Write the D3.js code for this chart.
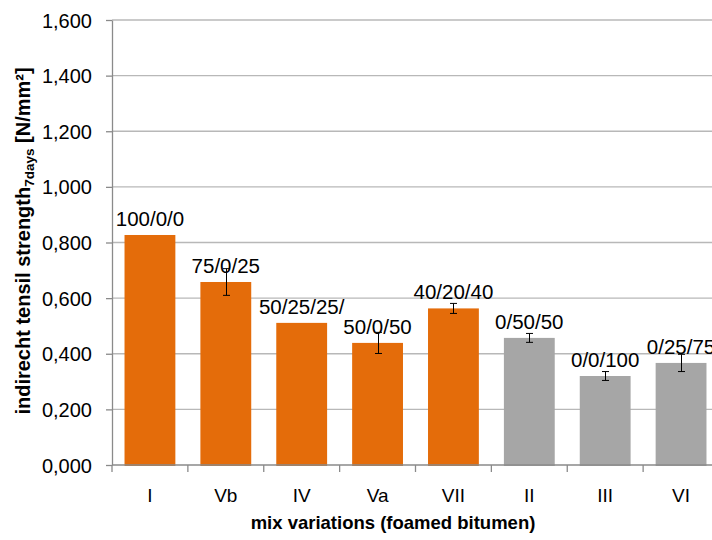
<!DOCTYPE html>
<html>
<head>
<meta charset="utf-8">
<script src="https://cdn.jsdelivr.net/npm/d3@7"></script>
<style>
  html, body { margin: 0; padding: 0; background: #fff; }
  svg { display: block; font-family: "Liberation Sans", Arial, sans-serif; }
</style>
</head>
<body>
<svg id="chart" width="712" height="540"></svg>
<script>
const categories = ["I", "Vb", "IV", "Va", "VII", "II", "III", "VI"];
const mixLabels = ["100/0/0", "75/0/25", "50/25/25/", "50/0/50", "40/20/40", "0/50/50", "0/0/100", "0/25/75"];
const values = [0.827, 0.658, 0.511, 0.439, 0.563, 0.457, 0.320, 0.367];
const errors = [0, 0.048, 0, 0.038, 0.018, 0.016, 0.016, 0.031];
const groups = ["orange", "orange", "orange", "orange", "orange", "gray", "gray", "gray"];
const yTicks = [0, 0.2, 0.4, 0.6, 0.8, 1.0, 1.2, 1.4, 1.6];

const colors = { orange: "#E46C0A", gray: "#A6A6A6" };
const svg = d3.select("#chart");
const mLeft = 112, mRight = 719, mTop = 20, mBottom = 465;

const x = d3.scaleBand().domain(categories).range([mLeft, mRight]).padding(0);
const y = d3.scaleLinear().domain([0, 1.6]).range([mBottom, mTop]);
const fmt = v => d3.format(".3f")(v).replace(".", ",");

svg.append("rect").attr("width", 712).attr("height", 540).attr("fill", "#fff");

// gridlines
svg.append("g").selectAll("line").data(yTicks.filter(d => d > 0)).join("line")
  .attr("x1", mLeft).attr("x2", 712)
  .attr("y1", d => y(d)).attr("y2", d => y(d))
  .attr("stroke", "#b8b8b8").attr("stroke-width", 1.3);

// y axis
const yAxis = svg.append("g").attr("transform", `translate(${mLeft},0)`)
  .call(d3.axisLeft(y).tickValues(yTicks).tickFormat(fmt).tickSize(6).tickSizeOuter(0));
yAxis.select(".domain").attr("stroke", "#8a8a8a").attr("stroke-width", 1.3);
yAxis.selectAll(".tick line").attr("stroke", "#8a8a8a").attr("stroke-width", 1.3);
yAxis.selectAll(".tick text").attr("font-size", 20).attr("fill", "#000")
  .attr("x", -20).attr("dy", "0.35em").attr("font-family", "Liberation Sans, Arial, sans-serif");

// bars
const bw = x.bandwidth() * 0.67;
svg.append("g").selectAll("rect").data(categories).join("rect")
  .attr("x", (d) => x(d) + (x.bandwidth() - bw) / 2)
  .attr("width", bw)
  .attr("y", (d, i) => y(values[i]))
  .attr("height", (d, i) => y(0) - y(values[i]) + 1)
  .attr("fill", (d, i) => colors[groups[i]]);

// x axis
const xAxis = svg.append("g").attr("transform", `translate(0,${mBottom})`)
  .call(d3.axisBottom(x).tickSize(0).tickSizeOuter(0));
xAxis.select(".domain").attr("stroke", "#8a8a8a").attr("stroke-width", 1.3)
  .attr("d", `M${mLeft},0H712`);
xAxis.selectAll(".tick text").attr("font-size", 19).attr("fill", "#000")
  .attr("y", 30).attr("dy", "0.35em").attr("font-family", "Liberation Sans, Arial, sans-serif");
// category boundary ticks
const bounds = categories.map(c => x(c));
xAxis.append("g").selectAll("line").data(bounds).join("line")
  .attr("x1", d => d).attr("x2", d => d).attr("y1", 0).attr("y2", 7)
  .attr("stroke", "#8a8a8a").attr("stroke-width", 1.3);

// error bars
const eb = svg.append("g").attr("stroke", "#000").attr("stroke-width", 1);
categories.forEach((c, i) => {
  if (!errors[i]) return;
  const cx = Math.round(x(c) + x.bandwidth() / 2) + 0.5;
  const y1 = y(values[i] + errors[i]), y2 = y(values[i] - errors[i]);
  eb.append("line").attr("x1", cx).attr("x2", cx).attr("y1", y1).attr("y2", y2);
  eb.append("line").attr("x1", cx - 3.5).attr("x2", cx + 3.5).attr("y1", y1).attr("y2", y1);
  eb.append("line").attr("x1", cx - 3.5).attr("x2", cx + 3.5).attr("y1", y2).attr("y2", y2);
});

// data labels
svg.append("g").selectAll("text").data(categories).join("text")
  .attr("x", d => x(d) + x.bandwidth() / 2)
  .attr("y", (d, i) => y(values[i]) - 9)
  .attr("text-anchor", "middle")
  .attr("font-size", 20.5)
  .attr("fill", "#000")
  .text((d, i) => mixLabels[i]);

// axis titles
svg.append("text").attr("x", 393).attr("y", 529)
  .attr("text-anchor", "middle").attr("font-size", 18.5).attr("font-weight", "bold")
  .text("mix variations (foamed bitumen)");

const yt = svg.append("text")
  .attr("transform", "translate(30,241) rotate(-90)")
  .attr("text-anchor", "middle").attr("font-size", 20).attr("font-weight", "bold");
yt.append("tspan").text("indirecht tensil strength");
yt.append("tspan").attr("font-size", 13.5).attr("dy", 4).text("7days");
yt.append("tspan").attr("dy", -4).text(" [N/mm²]");
</script>
</body>
</html>
